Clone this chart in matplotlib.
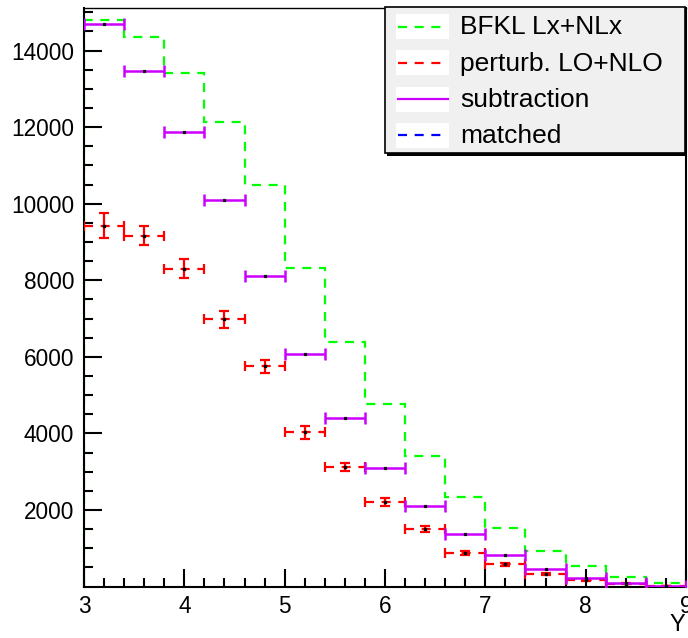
import numpy as np
import matplotlib
matplotlib.use("Agg")
import matplotlib.pyplot as plt
from matplotlib.patches import Rectangle
from matplotlib.lines import Line2D

plt.rcParams['font.family'] = ['Liberation Sans', 'DejaVu Sans']
plt.rcParams['lines.scale_dashes'] = False

# Rapidity bins (width 0.4 from 3 to 9)
bin_edges = [3.0, 3.4, 3.8, 4.2, 4.6, 5.0, 5.4, 5.8, 6.2, 6.6, 7.0, 7.4, 7.8, 8.2, 8.6, 9.0]

bfkl = [14798, 14362, 13421, 12134, 10496, 8329, 6396, 4756, 3411, 2327, 1538, 938, 538, 259, 86]
perturb = [9418, 9164, 8302, 6981, 5753, 4030, 3124, 2202, 1504, 885, 582, 329, 172, 76, 22]
perturb_err = [326, 253, 243, 227, 170, 170, 100, 100, 80, 50, 35, 25, 18, 12, 6]
subtraction = [14694, 13474, 11880, 10097, 8112, 6067, 4411, 3105, 2105, 1366, 825, 467, 232, 102, 16]

legend_labels = ["BFKL Lx+NLx", "perturb. LO+NLO", "subtraction", "matched"]
legend_colors = ["#00ff00", "#ff0000", "#cc00ff", "#0000ff"]
legend_styles = ["dashed", "dashed", "solid", "dashed"]

x_ticks = [3, 4, 5, 6, 7, 8, 9]
y_ticks = [2000, 4000, 6000, 8000, 10000, 12000, 14000]

W, H = 688, 638
DASH = (0, (6.5, 5.5))

fig = plt.figure(figsize=(W / 100, H / 100), dpi=100)
left, right, bottom, top = 84, 686, 586.6, 8
ax = fig.add_axes([left / W, (H - bottom) / H, (right - left) / W, (bottom - top) / H])

edges = np.array(bin_edges)
centers = 0.5 * (edges[:-1] + edges[1:])
half = 0.5 * np.diff(edges)

# BFKL histogram outline
ax.stairs(bfkl, edges, baseline=0, color="#00ff00", lw=1.6, linestyle=DASH, zorder=2)

# perturbative points with errors
eb = ax.errorbar(centers, perturb, xerr=half, yerr=perturb_err, fmt="none",
                 ecolor="#ff0000", elinewidth=1.6, capsize=3.5, capthick=1.6, zorder=3)
eb[2][0].set_linestyle(DASH)
ax.plot(centers, perturb, ls="none", marker="s", ms=1.5, color="black", zorder=4)

# subtraction
ax.errorbar(centers, subtraction, xerr=half, fmt="none", ecolor="#cc00ff",
            elinewidth=1.8, capsize=4, capthick=1.8, zorder=5)
ax.plot(centers, subtraction, ls="none", marker="s", ms=1.3, color="black", zorder=6)

ax.set_xlim(3, 9)
ax.set_ylim(0, 15110)
ax.set_xticks(x_ticks)
ax.set_xticklabels([str(t) for t in x_ticks])
ax.set_xticks(np.arange(3.2, 9.0, 0.2), minor=True)
ax.set_yticks(y_ticks)
ax.set_yticklabels([str(t) for t in y_ticks])
ax.set_yticks(np.arange(500, 15001, 500), minor=True)
ax.tick_params(which="both", direction="in", top=False, right=False, width=1.5,
               labelsize=16.3, colors="black")
ax.tick_params(which="major", length=13)
ax.tick_params(which="minor", length=6.5)
ax.tick_params(axis="y", pad=7)
ax.tick_params(axis="x", pad=6)
for s in ax.spines.values():
    s.set_linewidth(1.5)
ax.spines["top"].set_linewidth(1.0)

fig.text(685 / W, (H - 625) / H, "Y", fontsize=17, ha="right", va="center")

# legend box drawn in pixel coordinates
lax = fig.add_axes([0, 0, 1, 1], zorder=10)
lax.set_xlim(0, W)
lax.set_ylim(H, 0)
lax.axis("off")
lax.add_patch(Rectangle((387, 9.5), 300, 146, facecolor="black", edgecolor="none"))
lax.add_patch(Rectangle((385, 7), 300, 146, facecolor="#f0f0f0", edgecolor="black", lw=1.2))
for i, (lab, col, st) in enumerate(zip(legend_labels, legend_colors, legend_styles)):
    cy = 26.5 + 36.3 * i
    lax.add_patch(Rectangle((396, cy - 12.5), 53, 25, facecolor="white", edgecolor="none"))
    lax.add_line(Line2D([398, 448], [cy, cy], color=col, lw=1.6,
                        linestyle=DASH if st == "dashed" else "-"))
    lax.text(460, cy + 1, lab, fontsize=19, ha="left", va="center")

fig.savefig("out.png", dpi=100)
